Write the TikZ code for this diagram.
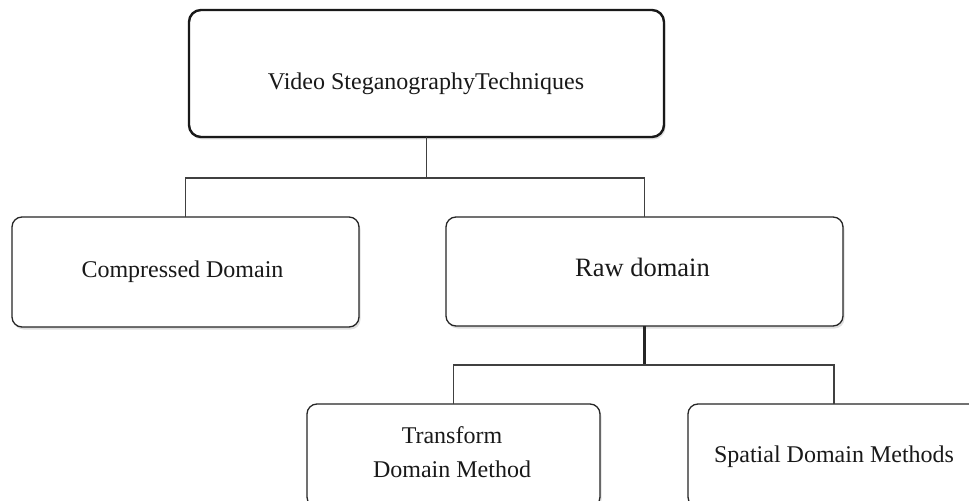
\documentclass[tikz,border=0pt]{standalone}
\usepackage{fontspec}
\setmainfont{Liberation Serif}
\usetikzlibrary{shadows}
\begin{document}
\begin{tikzpicture}[x=1bp,y=-1bp,
  box/.style={draw=black!85, line width=1.3bp, rounded corners=10bp, fill=white,
    inner sep=0pt, outer sep=0pt,
    drop shadow={opacity=0.25, shadow xshift=1.5bp, shadow yshift=-2.5bp}},
  bigbox/.style={box, line width=2.4bp, draw=black!90, rounded corners=12bp},
  conn/.style={draw=black!75, line width=1.1bp},
  thickconn/.style={draw=black!85, line width=2.2bp},
  lbl/.style={anchor=base, inner sep=0pt, font=\fontsize{24bp}{28bp}\selectfont, text=black!90}]
\useasboundingbox (0,0) rectangle (969,501);
\clip (0,0) rectangle (969,501);
\fill[white] (0,0) rectangle (969,501);

% boxes
\node[bigbox, minimum width=475bp, minimum height=127bp] (top) at (426.5,73.5) {};
\node[box, minimum width=347bp, minimum height=110bp] (comp) at (185.5,272) {};
\node[box, minimum width=397bp, minimum height=109bp] (raw) at (644.5,271.5) {};
\node[box, minimum width=293bp, minimum height=103bp] (trans) at (453.5,455.5) {};
\node[box, minimum width=340bp, minimum height=103bp] (spat) at (858,455.5) {};

% texts
\node[lbl] (ttop) at (426,90) {Video SteganographyTechniques};
\node[lbl] (tcomp) at (182.5,278) {Compressed Domain};
\node[lbl, font=\fontsize{26.5bp}{30bp}\selectfont] (traw) at (642.5,277) {Raw domain};
\node[lbl] (ttrans1) at (452,443) {Transform};
\node[lbl] (ttrans2) at (452,477) {Domain Method};
\node[lbl] (tspat) at (834,462) {Spatial Domain Methods};

% bus points
\coordinate (b1) at (426.5,178);
\coordinate (b2) at (644.5,365);
\coordinate (spin) at (tspat.base |- spat.north);

% connectors
\draw[conn] (top.south) -- (b1);
\draw[conn] (comp.north) |- (b1) -| (raw.north);
\draw[thickconn] (raw.south) -- (b2);
\draw[conn] (trans.north) |- (b2) -| (spin);
\end{tikzpicture}
\end{document}
